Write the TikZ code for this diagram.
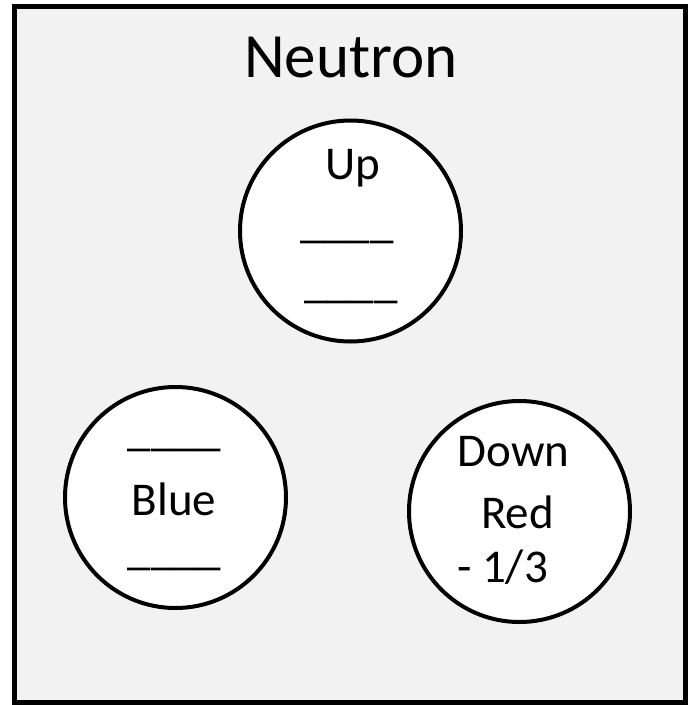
\documentclass[tikz,border=0pt]{standalone}
\usepackage{fontspec}
\setmainfont{Carlito}
\definecolor{panel}{HTML}{F2F2F2}
\begin{document}
\begin{tikzpicture}[x=1pt,y=-1pt,
  quark/.style={circle,draw=black,line width=4pt,fill=white,minimum size=221pt,inner sep=0pt},
  lbl/.style={anchor=base,inner sep=0pt,font=\fontsize{47}{56}\selectfont},
  title/.style={anchor=base,inner sep=0pt,font=\fontsize{63}{75}\selectfont}]
\useasboundingbox (0,0) rectangle (691,705);
\draw[line width=5pt,fill=panel] (14.5,6.5) rectangle (685,702);
\node[title] (neutron) at (351,77) {Neutron};
\node[quark] (up) at (350.5,231) {};
\node[quark] (blue) at (175.5,497.5) {};
\node[quark] (down) at (519.5,511.5) {};
% top circle
\node[lbl] (uplbl) at (353,179) {Up};
\node[lbl] (upa) at (347,237) {\_\_\_\_};
\node[lbl] (upb) at (351,297) {\_\_\_\_};
% left circle
\node[lbl] (bla) at (174.5,445) {\_\_\_\_};
\node[lbl] (bluelbl) at (174,515) {Blue};
\node[lbl] (blb) at (174.5,564) {\_\_\_\_};
% right circle
\node[lbl] (downlbl) at (513.5,466) {Down};
\node[lbl] (redlbl) at (517.5,528) {Red};
\node[lbl] (charge) at (502.5,582) {- 1/3};
\end{tikzpicture}
\end{document}
